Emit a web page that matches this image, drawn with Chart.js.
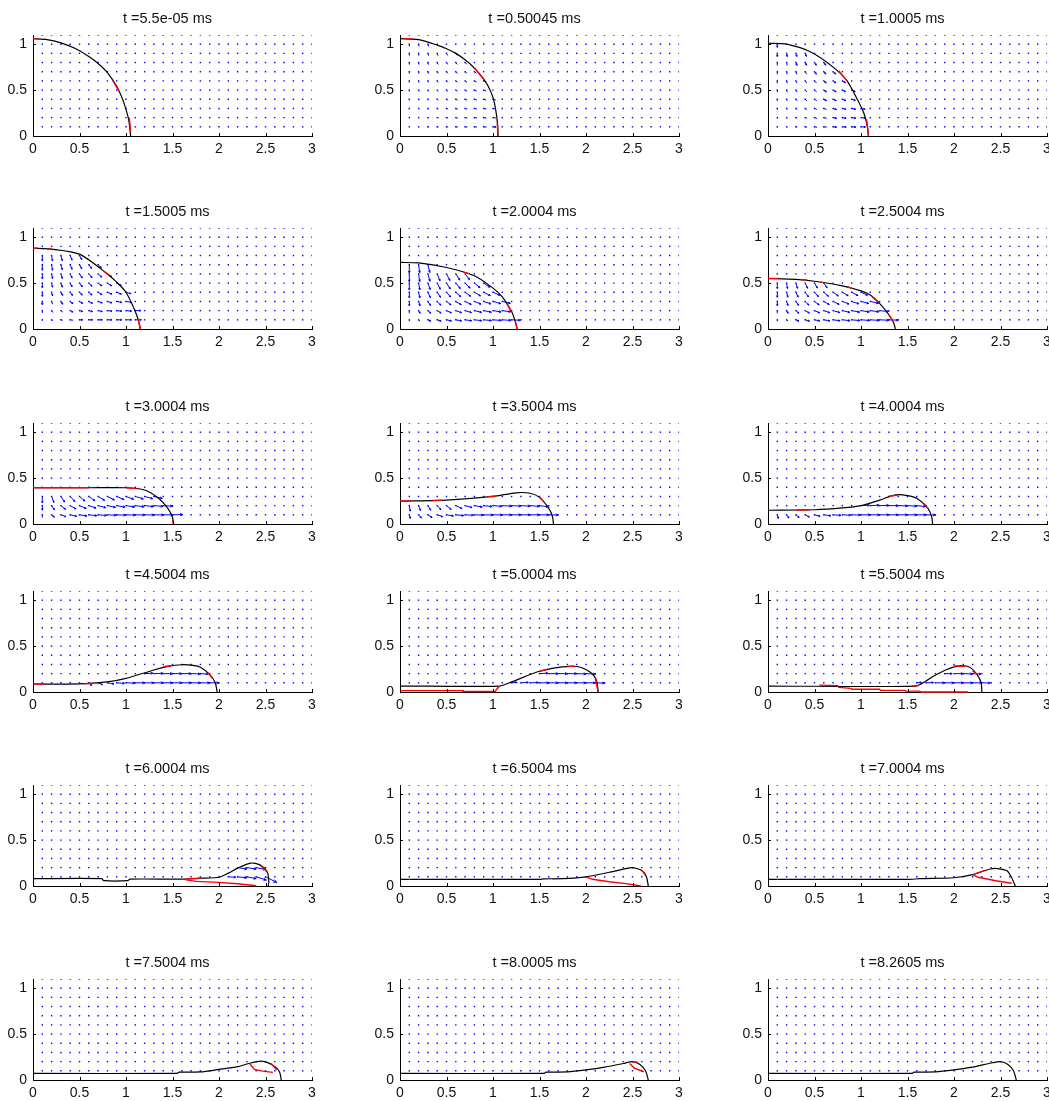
<!DOCTYPE html>
<html>
<head>
<meta charset="utf-8">
<script src="https://cdn.jsdelivr.net/npm/chart.js@4.4.1/dist/chart.umd.min.js"></script>
<style>
  html, body { margin: 0; padding: 0; background: #fff; }
  #wrap { position: relative; width: 1049px; height: 1101px; overflow: hidden; background: #fff; }
  .panel { position: absolute; }
</style>
</head>
<body>
<div id="wrap"></div>
<script>
// ---- frame titles (simulation time) ----
const titles = [
  't =5.5e-05 ms', 't =0.50045 ms', 't =1.0005 ms',
  't =1.5005 ms', 't =2.0004 ms', 't =2.5004 ms',
  't =3.0004 ms', 't =3.5004 ms', 't =4.0004 ms',
  't =4.5004 ms', 't =5.0004 ms', 't =5.5004 ms',
  't =6.0004 ms', 't =6.5004 ms', 't =7.0004 ms',
  't =7.5004 ms', 't =8.0005 ms', 't =8.2605 ms'
];

// ---- axes ----
const xTicks = [0, 0.5, 1, 1.5, 2, 2.5, 3];
const yTicks = [0, 0.5, 1];

// ---- velocity sampling grid ----
const gridX = [0.1,0.2,0.3,0.4,0.5,0.6,0.7,0.8,0.9,1.0,1.1,1.2,1.3,1.4,1.5,
               1.6,1.7,1.8,1.9,2.0,2.1,2.2,2.3,2.4,2.5,2.6,2.7,2.8,2.9,3.0];
const gridY = [0.1,0.2,0.3,0.4,0.5,0.6,0.7,0.8,0.9,1.0,1.1];

// ---- droplet free-surface profiles (x, y) ----
const profile1 = [[0,1.06],[0.15,1.05],[0.3,1.015],[0.45,0.955],[0.6,0.865],[0.7,0.79],[0.8,0.69],[0.9,0.54],[0.96,0.41],[1.0,0.29],[1.03,0.17],[1.05,0]];
const profile2 = [[0,1.06],[0.2,1.05],[0.4,0.99],[0.5,0.95],[0.6,0.9],[0.7,0.83],[0.8,0.74],[0.9,0.62],[0.95,0.54],[1.0,0.42],[1.03,0.28],[1.05,0.12],[1.054,0]];
const profile3 = [[0,1.01],[0.2,1.0],[0.47,0.91],[0.7,0.75],[0.85,0.6],[0.96,0.40],[1.03,0.25],[1.07,0.1],[1.08,0]];
const profile4 = [[0,0.88],[0.2,0.87],[0.5,0.815],[0.8,0.6],[0.9,0.51],[1.0,0.40],[1.1,0.19],[1.14,0.07],[1.154,0]];
const profile5 = [[0,0.725],[0.2,0.72],[0.5,0.67],[0.8,0.58],[1.0,0.445],[1.1,0.35],[1.2,0.19],[1.24,0.08],[1.26,0]];
const profile6 = [[0,0.55],[0.3,0.54],[0.5,0.52],[0.8,0.47],[1.0,0.415],[1.1,0.37],[1.2,0.28],[1.3,0.155],[1.35,0.07],[1.37,0]];
const profile7 = [[0,0.395],[0.6,0.395],[1.0,0.395],[1.2,0.37],[1.35,0.28],[1.45,0.17],[1.5,0.07],[1.51,0]];
const profile8 = [[0,0.25],[0.5,0.26],[1.0,0.30],[1.25,0.34],[1.4,0.335],[1.5,0.29],[1.6,0.17],[1.64,0.08],[1.65,0]];
const profile9 = [[0,0.15],[0.5,0.155],[0.8,0.175],[1.0,0.2],[1.2,0.26],[1.37,0.317],[1.5,0.31],[1.6,0.28],[1.72,0.17],[1.76,0.08],[1.77,0]];
const profile10 = [[0,0.087],[0.5,0.088],[0.8,0.11],[1.0,0.148],[1.3,0.24],[1.45,0.28],[1.6,0.297],[1.72,0.29],[1.8,0.27],[1.9,0.19],[1.96,0.1],[1.98,0]];
const profile11 = [[0,0.065],[1.07,0.065],[1.2,0.11],[1.48,0.22],[1.65,0.26],[1.84,0.28],[1.94,0.27],[2.04,0.22],[2.09,0.17],[2.12,0.1],[2.13,0]];
const profile12 = [[0,0.065],[1.59,0.065],[1.7,0.12],[1.77,0.166],[1.91,0.24],[2.06,0.285],[2.17,0.27],[2.24,0.2],[2.29,0.11],[2.3,0]];
const profile13 = [[0,0.08],[0.74,0.08],[0.76,0.058],[1.02,0.058],[1.04,0.075],[1.6,0.075],[1.8,0.085],[2.0,0.095],[2.1,0.14],[2.2,0.195],[2.34,0.25],[2.44,0.23],[2.52,0.15],[2.535,0.05],[2.53,0]];
const profile14 = [[0,0.072],[1.5,0.072],[1.55,0.078],[1.75,0.08],[2.0,0.1],[2.3,0.16],[2.49,0.2],[2.6,0.17],[2.65,0.1],[2.67,0]];
const profile15 = [[0,0.072],[1.5,0.072],[1.64,0.08],[2.0,0.09],[2.2,0.124],[2.39,0.185],[2.47,0.19],[2.57,0.165],[2.62,0.09],[2.66,0]];
const profile16 = [[0,0.072],[1.55,0.072],[1.57,0.085],[1.8,0.088],[2.0,0.115],[2.2,0.145],[2.32,0.18],[2.46,0.205],[2.58,0.16],[2.65,0.09],[2.67,0]];
const profile17 = [[0,0.072],[1.55,0.072],[1.57,0.085],[1.8,0.088],[2.0,0.11],[2.2,0.14],[2.4,0.18],[2.5,0.2],[2.58,0.17],[2.64,0.1],[2.67,0]];
const profile18 = [[0,0.072],[1.55,0.072],[1.57,0.085],[1.8,0.088],[2.0,0.11],[2.2,0.14],[2.4,0.185],[2.5,0.2],[2.58,0.17],[2.64,0.1],[2.67,0]];

// ---- tracked interface pieces (red) ----
const iface1 = [[[0,1.06],[0.05,1.058]], [[0.86,0.6],[0.93,0.48]], [[1.035,0.2],[1.05,0.05]]];
const iface2 = [[[0.04,1.06],[0.14,1.056]], [[0.8,0.74],[0.9,0.62]], [[1.045,0.14],[1.054,0]]];
const iface3 = [[[0.76,0.71],[0.85,0.6]], [[1.06,0.18],[1.08,0]]];
const iface4 = [[[0,0.88],[0.05,0.88]], [[0.15,0.872],[0.2,0.87]], [[0.76,0.63],[0.82,0.585]], [[1.13,0.11],[1.154,0]]];
const iface5 = [[[0.68,0.62],[0.75,0.6]], [[1.15,0.27],[1.2,0.19]], [[1.24,0.08],[1.26,0]]];
const iface6 = [[[0,0.55],[0.12,0.55]], [[0.35,0.538],[0.42,0.533]], [[0.56,0.512],[0.6,0.505]], [[0.85,0.46],[0.9,0.445]], [[1.12,0.35],[1.18,0.3]], [[1.3,0.155],[1.34,0.09]]];
const iface7 = [[[0,0.395],[0.6,0.395]], [[1.0,0.395],[1.12,0.385]], [[1.5,0.05],[1.51,0]]];
const iface8 = [[[0,0.25],[0.12,0.25]], [[0.35,0.257],[0.45,0.259]], [[0.95,0.298],[1.02,0.303]], [[1.5,0.29],[1.54,0.25]]];
const iface9 = [[[0.3,0.153],[0.45,0.155]], [[1.3,0.3],[1.4,0.317]], [[1.68,0.22],[1.72,0.17]]];
const iface10 = [[[0,0.087],[0.12,0.087]], [[0.55,0.09],[0.65,0.093]], [[1.4,0.275],[1.5,0.29]], [[1.88,0.21],[1.93,0.15]]];
const iface11 = [[[0,0.015],[0.68,0.015],[0.68,0.005],[1.02,0.005],[1.07,0.065]], [[1.5,0.225],[1.58,0.245]], [[1.8,0.28],[1.88,0.28]], [[2.1,0.15],[2.13,0]]];
const iface12 = [[[0.55,0.075],[0.75,0.07],[0.76,0.05],[0.89,0.04],[0.9,0.03],[1.2,0.03],[1.21,0.018],[1.47,0.018],[1.48,0.01],[1.62,0.01],[1.65,0],[2.15,0]],
                 [[1.55,0.065],[1.62,0.07]], [[2.0,0.283],[2.12,0.28]], [[2.2,0.23],[2.25,0.19]]];
const iface13 = [[[1.62,0.075],[1.65,0.067],[1.75,0.05],[2.0,0.04],[2.2,0.025],[2.4,0.003]], [[1.65,0.076],[1.8,0.085]], [[2.45,0.22],[2.51,0.16]]];
const iface14 = [[[2.0,0.1],[2.07,0.073],[2.25,0.046],[2.43,0.026],[2.59,0]], [[2.6,0.17],[2.64,0.12]]];
const iface15 = [[[2.2,0.124],[2.26,0.095],[2.45,0.057],[2.62,0.03]], [[2.22,0.13],[2.33,0.17]]];
const iface16 = [[[2.33,0.18],[2.38,0.115],[2.47,0.097],[2.58,0.083]], [[2.56,0.18],[2.62,0.11]]];
const iface17 = [[[2.47,0.18],[2.52,0.13],[2.62,0.09]], [[2.5,0.2],[2.56,0.19]]];
const iface18 = [];

// ---- velocity vectors: [row y, first x, u values, v values] ----
const flow1 = [];
const flow2 = [
  [1.0, 0.1, [0,0.005,0.008], [-0.025,-0.025,-0.025]],
  [0.9, 0.1, [0,0.004,0.007,0.01,0.012,0.015], [-0.025,-0.025,-0.025,-0.024,-0.023,-0.022]],
  [0.8, 0.1, [0,0.004,0.007,0.01,0.013,0.016,0.018], [-0.022,-0.022,-0.022,-0.021,-0.02,-0.02,-0.019]],
  [0.7, 0.1, [0,0.004,0.008,0.011,0.014,0.017,0.02,0.022], [-0.02,-0.02,-0.02,-0.019,-0.018,-0.018,-0.017,-0.016]],
  [0.6, 0.1, [0,0.004,0.008,0.012,0.015,0.018,0.021,0.023,0.025], [-0.018,-0.018,-0.017,-0.017,-0.016,-0.015,-0.015,-0.014,-0.013]],
  [0.5, 0.1, [0,0.005,0.009,0.013,0.016,0.019,0.022,0.025,0.027], [-0.015,-0.015,-0.015,-0.014,-0.014,-0.013,-0.012,-0.012,-0.011]],
  [0.4, 0.1, [0,0.005,0.009,0.013,0.017,0.02,0.023,0.026,0.028,0.03], [-0.012,-0.012,-0.012,-0.011,-0.011,-0.01,-0.01,-0.009,-0.009,-0.008]],
  [0.3, 0.1, [0,0.005,0.01,0.014,0.018,0.021,0.024,0.027,0.029,0.031], [-0.009,-0.009,-0.009,-0.008,-0.008,-0.008,-0.007,-0.007,-0.006,-0.006]],
  [0.2, 0.1, [0,0.005,0.01,0.014,0.018,0.022,0.025,0.028,0.03,0.032], [-0.006,-0.006,-0.006,-0.005,-0.005,-0.005,-0.005,-0.004,-0.004,-0.004]],
  [0.1, 0.1, [0,0.005,0.01,0.014,0.018,0.022,0.025,0.028,0.031,0.033], [-0.003,-0.003,-0.003,-0.003,-0.003,-0.002,-0.002,-0.002,-0.002,-0.002]]
];
const flow3 = [
  [1.0, 0.1, [0], [-0.035]],
  [0.9, 0.1, [0,0.006,0.01,0.014], [-0.035,-0.035,-0.034,-0.033]],
  [0.8, 0.1, [0,0.006,0.011,0.015,0.019,0.022], [-0.032,-0.032,-0.031,-0.03,-0.029,-0.028]],
  [0.7, 0.1, [0,0.006,0.011,0.016,0.02,0.024,0.027], [-0.029,-0.029,-0.028,-0.027,-0.026,-0.025,-0.024]],
  [0.6, 0.1, [0,0.007,0.012,0.017,0.022,0.026,0.03,0.033], [-0.026,-0.026,-0.025,-0.024,-0.023,-0.022,-0.021,-0.02]],
  [0.5, 0.1, [0,0.007,0.013,0.018,0.023,0.028,0.032,0.035,0.038], [-0.022,-0.022,-0.021,-0.02,-0.02,-0.019,-0.018,-0.017,-0.016]],
  [0.4, 0.1, [0,0.007,0.013,0.019,0.024,0.029,0.033,0.037,0.04], [-0.018,-0.018,-0.017,-0.017,-0.016,-0.015,-0.014,-0.013,-0.012]],
  [0.3, 0.1, [0,0.007,0.014,0.02,0.025,0.03,0.035,0.039,0.042,0.045], [-0.014,-0.014,-0.013,-0.013,-0.012,-0.011,-0.011,-0.01,-0.009,-0.008]],
  [0.2, 0.1, [0,0.008,0.014,0.02,0.026,0.031,0.036,0.04,0.044,0.047], [-0.009,-0.009,-0.009,-0.008,-0.008,-0.007,-0.007,-0.006,-0.006,-0.005]],
  [0.1, 0.1, [0,0.008,0.015,0.021,0.027,0.032,0.037,0.041,0.045,0.048], [-0.005,-0.005,-0.004,-0.004,-0.004,-0.003,-0.003,-0.003,-0.003,-0.002]]
];
const flow4 = [
  [0.8, 0.1, [0,0.01,0.015,0.02,0.025], [-0.06,-0.06,-0.055,-0.05,-0.045]],
  [0.7, 0.1, [0,0.01,0.015,0.02,0.025,0.03,0.035], [-0.06,-0.06,-0.055,-0.05,-0.045,-0.04,-0.035]],
  [0.6, 0.1, [0,0.01,0.015,0.02,0.03,0.035,0.04,0.045], [-0.055,-0.05,-0.05,-0.045,-0.045,-0.04,-0.035,-0.03]],
  [0.5, 0.1, [0,0.01,0.015,0.02,0.03,0.035,0.04,0.045,0.05], [-0.05,-0.045,-0.045,-0.04,-0.04,-0.035,-0.03,-0.03,-0.025]],
  [0.4, 0.1, [0,0.01,0.02,0.025,0.03,0.035,0.04,0.05,0.05,0.055], [-0.045,-0.04,-0.035,-0.035,-0.03,-0.03,-0.025,-0.02,-0.02,-0.015]],
  [0.3, 0.1, [0,0.01,0.02,0.03,0.035,0.04,0.045,0.05,0.055,0.06], [-0.035,-0.03,-0.03,-0.025,-0.02,-0.02,-0.015,-0.015,-0.01,-0.01]],
  [0.2, 0.1, [0,0.015,0.02,0.03,0.035,0.04,0.045,0.05,0.055,0.06,0.06], [-0.025,-0.02,-0.015,-0.015,-0.01,-0.01,-0.01,-0.005,-0.005,-0.005,0]],
  [0.1, 0.1, [0,0.015,0.02,0.03,0.035,0.04,0.045,0.05,0.055,0.06,0.065], [-0.01,-0.01,-0.005,-0.005,0,0,0,0,0,0,0]]
];
const flow5 = [
  [0.7, 0.1, [0,0.012,0.02], [-0.09,-0.088,-0.085]],
  [0.6, 0.1, [0,0.012,0.022,0.03,0.037,0.043,0.048], [-0.085,-0.083,-0.08,-0.076,-0.072,-0.068,-0.063]],
  [0.5, 0.1, [0,0.013,0.024,0.033,0.041,0.048,0.054,0.06,0.065], [-0.075,-0.073,-0.07,-0.067,-0.063,-0.059,-0.055,-0.05,-0.045]],
  [0.4, 0.1, [0,0.014,0.026,0.036,0.045,0.053,0.06,0.066,0.071,0.075], [-0.062,-0.06,-0.058,-0.055,-0.052,-0.048,-0.044,-0.04,-0.036,-0.032]],
  [0.3, 0.1, [0,0.015,0.028,0.039,0.049,0.058,0.066,0.072,0.078,0.083,0.087], [-0.047,-0.046,-0.044,-0.041,-0.038,-0.035,-0.032,-0.029,-0.026,-0.023,-0.02]],
  [0.2, 0.1, [0,0.016,0.03,0.042,0.052,0.061,0.069,0.076,0.082,0.087,0.091], [-0.03,-0.029,-0.028,-0.026,-0.024,-0.022,-0.02,-0.018,-0.016,-0.014,-0.012]],
  [0.1, 0.1, [0,0.016,0.031,0.043,0.054,0.063,0.071,0.078,0.084,0.089,0.093,0.095], [-0.015,-0.014,-0.014,-0.013,-0.012,-0.011,-0.01,-0.009,-0.008,-0.007,-0.006,-0.005]]
];
const flow6 = [
  [0.5, 0.1, [0,0.01,0.018,0.025,0.03,0.035], [-0.06,-0.06,-0.058,-0.056,-0.053,-0.05]],
  [0.4, 0.1, [0,0.013,0.025,0.035,0.043,0.05,0.056,0.062,0.067,0.071], [-0.055,-0.054,-0.052,-0.05,-0.047,-0.044,-0.041,-0.038,-0.035,-0.032]],
  [0.3, 0.1, [0,0.015,0.028,0.04,0.05,0.058,0.065,0.072,0.078,0.083,0.087], [-0.045,-0.044,-0.042,-0.04,-0.037,-0.034,-0.031,-0.028,-0.025,-0.022,-0.02]],
  [0.2, 0.1, [0,0.016,0.031,0.044,0.055,0.064,0.072,0.079,0.085,0.09,0.094,0.097], [-0.03,-0.029,-0.028,-0.026,-0.024,-0.022,-0.02,-0.018,-0.016,-0.014,-0.012,-0.01]],
  [0.1, 0.1, [0,0.017,0.033,0.046,0.057,0.067,0.075,0.082,0.088,0.093,0.097,0.1,0.1], [-0.015,-0.014,-0.014,-0.013,-0.012,-0.011,-0.01,-0.009,-0.008,-0.007,-0.006,-0.005,-0.004]]
];
const flow7 = [
  [0.3, 0.1, [0,0.025,0.04,0.05,0.058,0.065,0.07,0.075,0.079,0.083,0.086,0.088,0.09], [-0.07,-0.065,-0.06,-0.055,-0.05,-0.046,-0.042,-0.038,-0.034,-0.03,-0.027,-0.024,-0.021]],
  [0.2, 0.1, [0,0.03,0.05,0.062,0.071,0.078,0.083,0.087,0.09,0.093,0.095,0.097,0.098,0.1], [-0.05,-0.045,-0.04,-0.035,-0.03,-0.026,-0.022,-0.019,-0.016,-0.014,-0.012,-0.01,-0.008,-0.006]],
  [0.1, 0.1, [0,0.03,0.055,0.07,0.08,0.087,0.092,0.095,0.098,0.1,0.102,0.104,0.106,0.108,0.11], [-0.03,-0.025,-0.02,-0.016,-0.012,-0.009,-0.007,-0.005,-0.004,-0.003,-0.002,-0.002,-0.001,0,0.003]]
];
const flow8 = [
  [0.2, 0.1, [0.01,0.02,0.03,0.04,0.05,0.065,0.075,0.085,0.09,0.095,0.1,0.1,0.1,0.1,0.095], [-0.06,-0.055,-0.05,-0.045,-0.04,-0.03,-0.02,-0.015,-0.01,-0.008,-0.005,-0.005,-0.005,-0.008,-0.012]],
  [0.1, 0.1, [0.01,0.03,0.045,0.06,0.075,0.085,0.09,0.095,0.1,0.1,0.1,0.1,0.1,0.1,0.1,0.1], [-0.04,-0.035,-0.03,-0.02,-0.012,-0.008,-0.005,-0.003,-0.002,-0.001,0,0,0,0,0,-0.002]]
];
const flow9 = [
  [0.2, 1.0, [0.09,0.095,0.1,0.1,0.1,0.1,0.095], [0.005,0.005,0.003,0,-0.003,-0.006,-0.01]],
  [0.1, 0.1, [0.01,0.025,0.035,0.045,0.06,0.075,0.085,0.09,0.095,0.1,0.1,0.1,0.1,0.1,0.1,0.1,0.1], [-0.04,-0.035,-0.03,-0.025,-0.015,-0.01,-0.006,-0.004,-0.002,0,0,0,0,0,0,0,-0.002]]
];
const flow10 = [
  [0.2, 1.2, [0.09,0.1,0.1,0.1,0.1,0.1,0.08], [0.005,0.003,0,0,0,-0.003,-0.005]],
  [0.1, 0.6, [0.03,0.05,0.07,0.085,0.095,0.1,0.1,0.1,0.1,0.1,0.1,0.1,0.1,0.1], [-0.03,-0.02,-0.012,-0.006,-0.003,0,0,0,0,0,0,0,0,0]]
];
const flow11 = [
  [0.2, 1.5, [0.09,0.1,0.1,0.1,0.1,0.1], [0.005,0,0,0,-0.003,-0.006]],
  [0.1, 1.2, [0.06,0.08,0.09,0.1,0.1,0.1,0.1,0.1,0.1,0.1], [0.005,0.005,0.003,0,0,0,0,0,0,-0.003]]
];
const flow12 = [
  [0.2, 1.9, [0.08,0.1,0.1,0.09], [0,0,-0.003,-0.005]],
  [0.1, 1.6, [0.05,0.08,0.1,0.1,0.1,0.1,0.1,0.09], [0.005,0.003,0,0,0,0,0,-0.002]]
];
const flow13 = [
  [0.2, 2.2, [0.1,0.1,0.1], [-0.015,-0.015,-0.02]],
  [0.1, 2.1, [0.08,0.1,0.1,0.11,0.12], [-0.005,-0.01,-0.02,-0.035,-0.06]]
];
const flow14 = [], flow15 = [], flow16 = [], flow17 = [], flow18 = [];

const profiles = [profile1,profile2,profile3,profile4,profile5,profile6,profile7,profile8,profile9,
                  profile10,profile11,profile12,profile13,profile14,profile15,profile16,profile17,profile18];
const interfaces = [iface1,iface2,iface3,iface4,iface5,iface6,iface7,iface8,iface9,
                    iface10,iface11,iface12,iface13,iface14,iface15,iface16,iface17,iface18];
const flows = [flow1,flow2,flow3,flow4,flow5,flow6,flow7,flow8,flow9,
               flow10,flow11,flow12,flow13,flow14,flow15,flow16,flow17,flow18];

// ---- page layout (pixels) ----
const colLeft = [33, 400, 768];
const rowBase = [136, 329, 524, 692, 886, 1080];
const PW = 279, PH = 101;          // plot box size
const PADL = 40;                   // y scale box width (left of the plot box)
const PADR = 30;                   // spacer scale box width (right of the plot box)
const PADT = 30, PADB = 26;        // canvas margin above / below the plot box
const FONT = '"Liberation Sans", Arial, Helvetica, sans-serif';
const QUIVER_BLUE = '#0000ff';

const toPts = arr => arr.map(([x, y]) => ({ x, y }));

// quiver arrows, drawn through the panel's own scales
function makeQuiverPlugin(rows) {
  return {
    id: 'quiver',
    beforeDatasetsDraw(chart) {
      const xs = chart.scales.x, ys = chart.scales.y, ctx = chart.ctx;
      const a = chart.chartArea;
      ctx.save();
      ctx.beginPath();
      ctx.rect(a.left, a.top - 2, a.right - a.left + 2, a.bottom - a.top + 2);
      ctx.clip();
      ctx.strokeStyle = QUIVER_BLUE;
      ctx.lineWidth = 1;
      ctx.lineCap = 'butt';
      rows.forEach(([y, xStart, us, vs]) => {
        const i0 = gridX.indexOf(xStart);
        us.forEach((u, k) => {
          const x = gridX[i0 + k];
          const v = vs[k];
          const x0 = xs.getPixelForValue(x), y0 = ys.getPixelForValue(y);
          const x1 = xs.getPixelForValue(x + u), y1 = ys.getPixelForValue(y + v);
          const dx = x1 - x0, dy = y1 - y0;
          const len = Math.hypot(dx, dy);
          ctx.beginPath();
          ctx.moveTo(x0, y0);
          ctx.lineTo(x1, y1);
          if (len > 3) {
            const ang = Math.atan2(dy, dx);
            const h = Math.max(1.8, len * 0.28);
            const spread = 0.42;
            ctx.moveTo(x1 - h * Math.cos(ang - spread), y1 - h * Math.sin(ang - spread));
            ctx.lineTo(x1, y1);
            ctx.lineTo(x1 - h * Math.cos(ang + spread), y1 - h * Math.sin(ang + spread));
          }
          ctx.stroke();
        });
      });
      ctx.restore();
    }
  };
}

// tick marks pointing into the plot box
const innerTicks = {
  id: 'innerTicks',
  afterDraw(chart) {
    const xs = chart.scales.x, ys = chart.scales.y, ctx = chart.ctx;
    const a = chart.chartArea;
    ctx.save();
    ctx.strokeStyle = '#000';
    ctx.lineWidth = 1;
    ctx.beginPath();
    xTicks.forEach(t => {
      const px = Math.round(xs.getPixelForValue(t)) + 0.5;
      ctx.moveTo(px, a.bottom);
      ctx.lineTo(px, a.bottom - 3);
    });
    yTicks.forEach(t => {
      const py = Math.round(ys.getPixelForValue(t)) + 0.5;
      ctx.moveTo(a.left, py);
      ctx.lineTo(a.left + 3, py);
    });
    ctx.stroke();
    ctx.restore();
  }
};

const dots = [];
gridY.forEach(y => gridX.forEach(x => dots.push({ x, y })));

const wrap = document.getElementById('wrap');
titles.forEach((title, i) => {
  const r = Math.floor(i / 3), c = i % 3;
  const div = document.createElement('div');
  div.className = 'panel';
  const W = PADL + PW + PADR, H = PADT + PH + PADB;
  div.style.left = (colLeft[c] - PADL) + 'px';
  div.style.top = (rowBase[r] - PH - PADT) + 'px';
  div.style.width = W + 'px';
  div.style.height = H + 'px';
  const cv = document.createElement('canvas');
  cv.width = W; cv.height = H;
  cv.style.width = W + 'px'; cv.style.height = H + 'px';
  div.appendChild(cv);
  wrap.appendChild(div);

  const datasets = [];
  interfaces[i].forEach(seg => datasets.push({
    data: toPts(seg), showLine: true, borderColor: '#ff0000', borderWidth: 1.4,
    pointRadius: 0, tension: 0, clip: 2
  }));
  datasets.push({
    data: toPts(profiles[i]), showLine: true, borderColor: '#000000', borderWidth: 1.2,
    pointRadius: 0, tension: 0.25, clip: 2
  });
  datasets.push({
    data: dots, showLine: false, pointStyle: 'rect', pointRadius: 1.0,
    backgroundColor: QUIVER_BLUE, borderWidth: 0
  });

  new Chart(cv, {
    type: 'scatter',
    data: { datasets },
    options: {
      responsive: false,
      animation: false,
      events: [],
      layout: { padding: 0 },
      plugins: {
        legend: { display: false },
        tooltip: { enabled: false },
        title: {
          display: true, text: title, color: '#111',
          font: { family: FONT, size: 14.5, weight: 'normal' },
          padding: { top: 5.3, bottom: 7.3 }
        }
      },
      scales: {
        x: {
          type: 'linear', min: 0, max: 3,
          afterBuildTicks: s => { s.ticks = xTicks.map(v => ({ value: v })); },
          afterFit: s => { s.height = PADB; },
          grid: { display: false, drawTicks: false },
          border: { display: true, color: '#000', width: 1 },
          ticks: { padding: 5, color: '#111', font: { family: FONT, size: 14 }, callback: v => String(v), maxRotation: 0 }
        },
        y: {
          type: 'linear', position: 'left', min: 0, max: 1.1,
          afterBuildTicks: s => { s.ticks = yTicks.map(v => ({ value: v })); },
          afterFit: s => { s.width = PADL; },
          grid: { display: false, drawTicks: false },
          border: { display: true, color: '#000', width: 1 },
          ticks: { padding: 6, color: '#111', font: { family: FONT, size: 14 }, callback: v => String(v) }
        },
        // empty right-hand box: keeps the plot box where the panel grid puts it
        spacer: {
          type: 'linear', position: 'right', min: 0, max: 1,
          afterFit: s => { s.width = PADR; },
          grid: { display: false, drawTicks: false },
          border: { display: false },
          ticks: { display: false }
        }
      }
    },
    plugins: [makeQuiverPlugin(flows[i]), innerTicks]
  });
});
</script>
</body>
</html>
